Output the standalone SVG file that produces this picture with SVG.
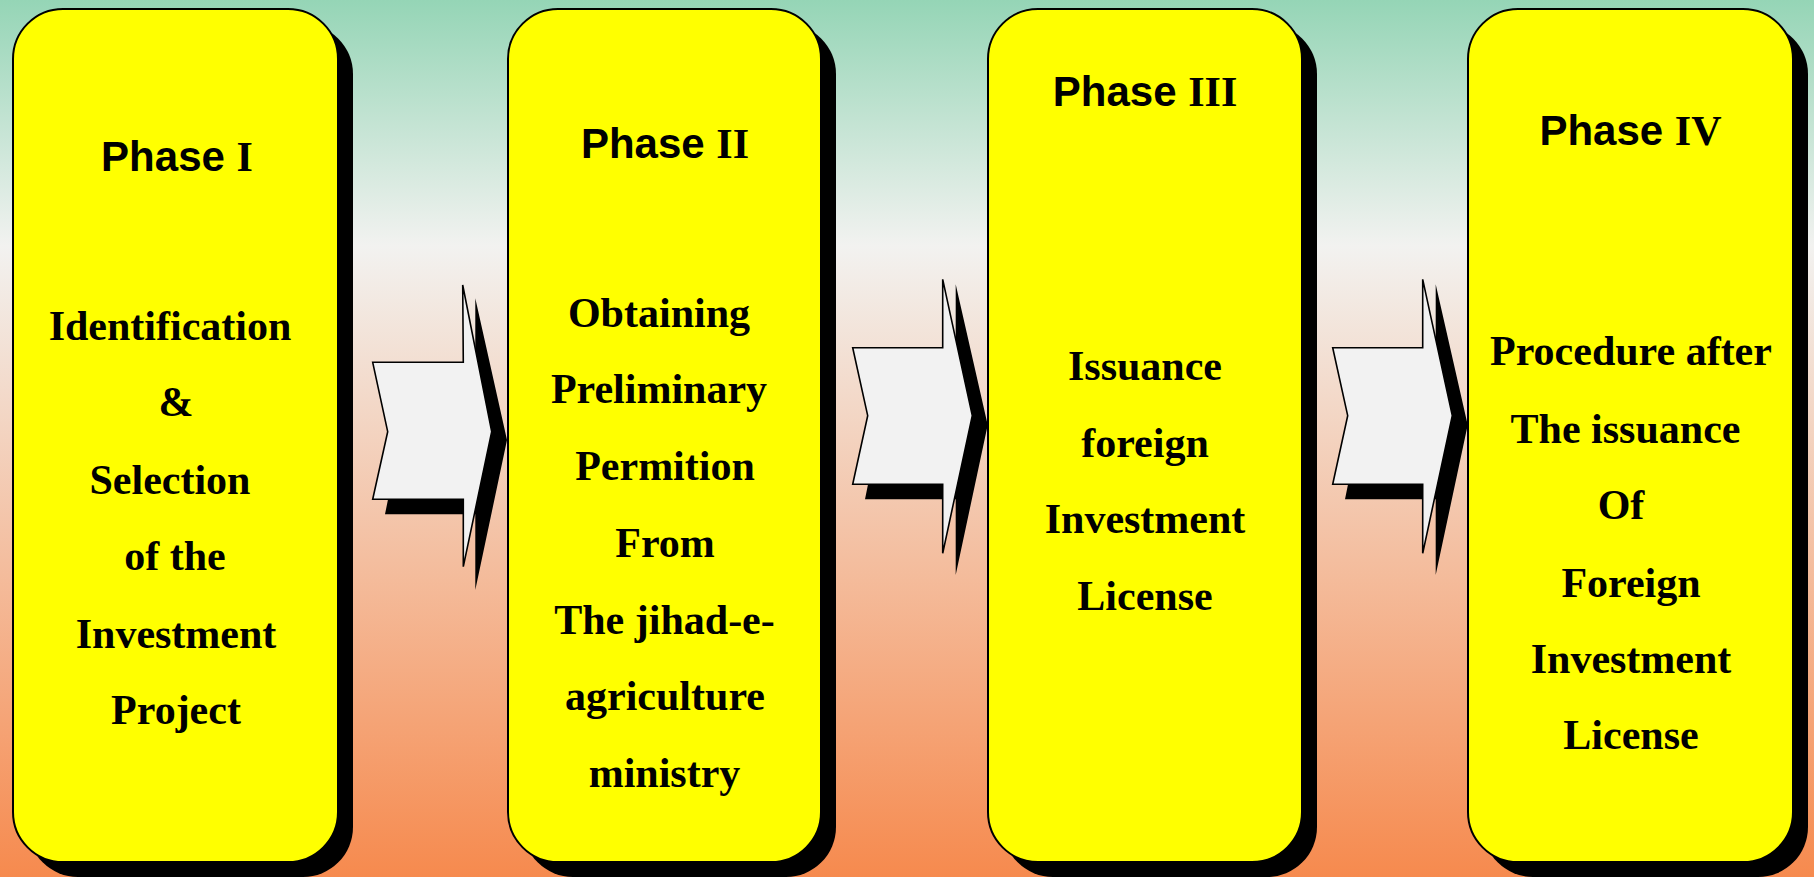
<svg xmlns="http://www.w3.org/2000/svg" width="1814" height="877" viewBox="0 0 1814 877">
<defs>
<linearGradient id="bg" x1="0" y1="0" x2="0" y2="1">
<stop offset="0" stop-color="#95d5b6"/>
<stop offset="0.28" stop-color="#f2f2f0"/>
<stop offset="1" stop-color="#f68a4e"/>
</linearGradient>
<style>
.box{fill:#ffff00;stroke:#000;stroke-width:2}
.sh{fill:#000}
.arrow{fill:#f2f2f2;stroke:#000;stroke-width:1.6;stroke-linejoin:miter}
.t{font-family:"Liberation Serif","Times New Roman",serif;font-weight:bold;font-size:42px;fill:#000;text-anchor:middle}
.h{font-family:"Liberation Sans",Arial,sans-serif}
</style>
</defs>
<rect x="0" y="0" width="1814" height="877" fill="url(#bg)"/>

<g id="connectors">
<g id="arrow1">
<polygon class="sh" points="385,377 475.3,377 475.3,298.3 507,440 475.3,590 475.3,514.3 385,514.3 400,440"/>
<polygon class="arrow" points="372.7,362.3 463.3,362.3 462.7,285 491.7,431.7 463.3,566.7 463.3,499.3 372.7,499.3 387.7,431.7"/>
</g>
<g id="arrow2">
<polygon class="sh" points="865,362 955.7,362 955.7,284.3 987.7,425 955.7,575 955.7,499.3 865,499.3 880,425"/>
<polygon class="arrow" points="852.7,347.7 942.7,347.7 942.7,279.3 972.3,415.7 942.7,553.3 942.7,484.3 852.7,484.3 867.7,415.7"/>
</g>
<g id="arrow3">
<polygon class="sh" points="1345,362 1435.7,362 1435.7,284.3 1467.7,425 1435.7,575 1435.7,499.3 1345,499.3 1360,425"/>
<polygon class="arrow" points="1332.7,347.7 1422.7,347.7 1422.7,279.3 1452.3,415.7 1422.7,553.3 1422.7,484.3 1332.7,484.3 1347.7,415.7"/>
</g>
</g>

<g id="phase1">
<rect class="sh" x="28" y="24" width="325" height="853" rx="50"/>
<rect class="box" x="13" y="9" width="325" height="853" rx="50"/>
<text class="t" x="177" y="170.7"><tspan class="h">Phase </tspan>I</text>
<text class="t" x="170" y="339.8">Identification</text>
<text class="t" x="176" y="416.3">&amp;</text>
<text class="t" x="170" y="493.8">Selection</text>
<text class="t" x="175" y="569.7">of the</text>
<text class="t" x="176" y="647.8">Investment</text>
<text class="t" x="176" y="724.3">Project</text>
</g>

<g id="phase2">
<rect class="sh" x="523" y="24" width="313" height="853" rx="50"/>
<rect class="box" x="508" y="9" width="313" height="853" rx="50"/>
<text class="t" x="665" y="158"><tspan class="h">Phase </tspan>II</text>
<text class="t" x="659" y="327">Obtaining</text>
<text class="t" x="659" y="403.4">Preliminary</text>
<text class="t" x="665" y="480.4">Permition</text>
<text class="t" x="665" y="556.9">From</text>
<text class="t" x="664.5" y="634">The jihad-e-</text>
<text class="t" x="665" y="710.4">agriculture</text>
<text class="t" x="664.5" y="787.4">ministry</text>
</g>

<g id="phase3">
<rect class="sh" x="1003" y="24" width="314" height="853" rx="50"/>
<rect class="box" x="988" y="9" width="314" height="853" rx="50"/>
<text class="t" x="1145" y="106"><tspan class="h">Phase </tspan>III</text>
<text class="t" x="1145" y="380">Issuance</text>
<text class="t" x="1145" y="457">foreign</text>
<text class="t" x="1145" y="533">Investment</text>
<text class="t" x="1145" y="610">License</text>
</g>

<g id="phase4">
<rect class="sh" x="1483" y="24" width="325" height="853" rx="50"/>
<rect class="box" x="1468" y="9" width="325" height="853" rx="50"/>
<text class="t" x="1630.5" y="145"><tspan class="h">Phase </tspan>IV</text>
<text class="t" x="1631" y="365">Procedure after</text>
<text class="t" x="1625.5" y="442.7">The issuance</text>
<text class="t" x="1621" y="519.3">Of</text>
<text class="t" x="1631" y="596.7">Foreign</text>
<text class="t" x="1631" y="672.7">Investment</text>
<text class="t" x="1631" y="749.3">License</text>
</g>
</svg>
